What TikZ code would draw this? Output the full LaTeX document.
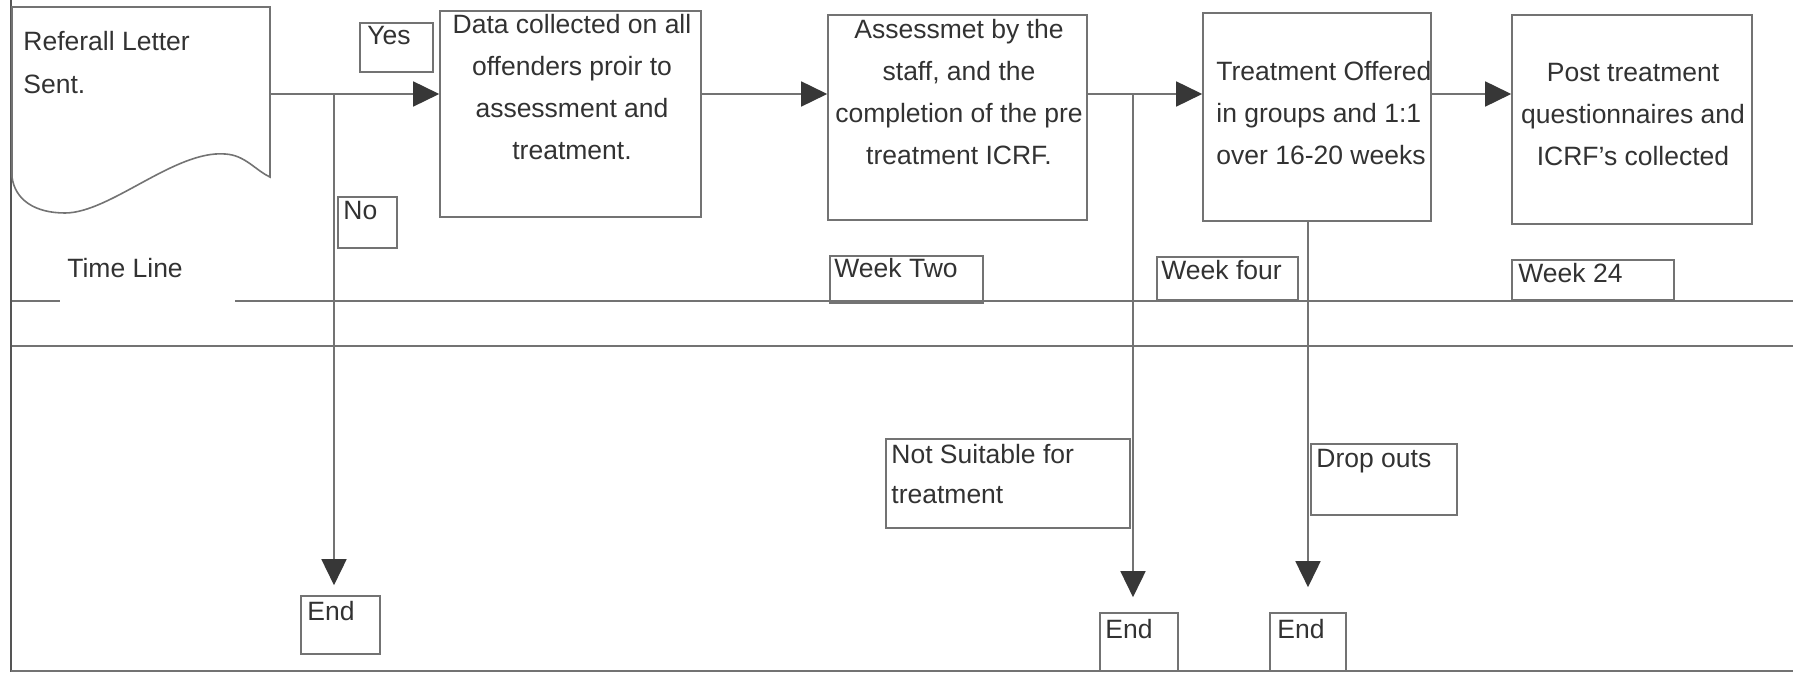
\documentclass[tikz,border=0pt]{standalone}
\usepackage{fontspec}
\setmainfont{Liberation Sans}
\usetikzlibrary{arrows.meta}
\definecolor{lineC}{RGB}{115,115,115}
\definecolor{frameC}{RGB}{85,85,85}
\definecolor{txtC}{RGB}{50,50,50}
\definecolor{tipC}{RGB}{55,55,55}
\begin{document}
\begin{tikzpicture}[x=0.5pt,y=-0.5pt,
  ln/.style={draw=lineC, line width=0.8pt},
  arr/.style={ln, -{Triangle[length=13pt,width=12.5pt,color=tipC]}},
  box/.style={draw=lineC, line width=0.8pt, inner sep=0pt},
  txt/.style={text=txtC, inner sep=0pt, font=\fontsize{13.25pt}{21pt}\selectfont},
]
\useasboundingbox (0,0) rectangle (1793,673);

% frame
\draw[draw=frameC, line width=1.3pt] (11,0) -- (11,672);
\draw[ln] (11,671) -- (1793,671);

% document shape
\draw[ln] (12,177) -- (12,7) -- (270,7) -- (270,177)
  .. controls (255,170) and (245,155) .. (225,154)
  .. controls (175,150) and (110,213) .. (65,213)
  .. controls (35,213) and (15,200) .. (12,177);
\node[txt, anchor=north west, align=left, font=\fontsize{13.25pt}{21.5pt}\selectfont] (docT) at (23,30.7) {Referall Letter\\Sent.};

% time lines
\draw[ln] (12,301) -- (60,301);
\draw[ln] (235,301) -- (1793,301);
\draw[ln] (12,346) -- (1793,346);
\node[txt, anchor=base west] (tl) at (67,278) {Time Line};

% main boxes
\node[box, minimum width=130.5pt, minimum height=103pt] (box1) at (570.5,114) {};
\node[box, minimum width=129.5pt, minimum height=102.5pt] (box2) at (957.5,117.5) {};
\node[box, minimum width=114pt, minimum height=104pt] (box3) at (1317,117) {};
\node[box, minimum width=120pt, minimum height=104.5pt] (box4) at (1632,119.5) {};

\node[txt, anchor=north, align=center] (t1) at (572,13.7) {Data collected on all\\offenders proir to\\assessment and\\treatment.};
\node[txt, anchor=north, align=center] (t2) at (959,18.7) {Assessmet by the\\staff, and the\\completion of the pre\\treatment ICRF.};
\node[txt, anchor=north west, align=left] (t3) at (1216,60.7) {Treatment Offered\\in groups and 1:1\\over 16-20 weeks};
\node[txt, anchor=north, align=center] (t4) at (1633,62.7) {Post treatment\\questionnaires and\\ICRF's collected};

% small label boxes
\node[box, minimum width=36.5pt, minimum height=24.5pt] (yes) at (396.5,47.5) {};
\node[txt, anchor=base west] (yesT) at (367,45) {Yes};
\node[box, minimum width=29.5pt, minimum height=25.5pt] (no) at (367.5,222.5) {};
\node[txt, anchor=base west] (noT) at (343,220) {No};

\node[box, minimum width=76.5pt, minimum height=23.5pt] (wk2) at (906.5,279.5) {};
\node[txt, anchor=base west] (wk2T) at (834,278) {Week Two};
\node[box, minimum width=70.5pt, minimum height=21.5pt] (wk4) at (1227.5,278.5) {};
\node[txt, anchor=base west] (wk4T) at (1161,280) {Week four};
\node[box, minimum width=81pt, minimum height=20pt] (wk24) at (1593,280) {};
\node[txt, anchor=base west] (wk24T) at (1518,283) {Week 24};

\node[box, minimum width=122pt, minimum height=44.5pt] (ns) at (1008,483.5) {};
\node[txt, anchor=north west, align=left, font=\fontsize{13.25pt}{20pt}\selectfont] (nsT) at (891,443.7) {Not Suitable for\\treatment};
\node[box, minimum width=73pt, minimum height=35.5pt] (drop) at (1384,479.5) {};
\node[txt, anchor=base west] (dropT) at (1316,467) {Drop outs};

\node[box, minimum width=39.5pt, minimum height=29pt] (end1) at (340.5,625) {};
\node[txt, anchor=base west] (end1T) at (307,620) {End};
\node[box, minimum width=39pt, minimum height=29pt] (end2) at (1139,642) {};
\node[txt, anchor=base west] (end2T) at (1105,638) {End};
\node[box, minimum width=38pt, minimum height=29pt] (end3) at (1308,642) {};
\node[txt, anchor=base west] (end3T) at (1277,638) {End};

% connectors
\coordinate (docR) at (270,94);
\coordinate (j1) at (334,94);
\coordinate (j2) at (1133,94);
\draw[ln] (docR) -- (j1);
\draw[arr] (j1) -- (j1 -| box1.west);
\draw[arr, shorten >=5pt] (j1) -- (j1 |- end1.north);
\draw[arr] (box1.east |- j1) -- (box2.west |- j1);
\draw[ln] (box2.east |- j2) -- (j2);
\draw[arr] (j2) -- (j2 -| box3.west);
\draw[arr, shorten >=7.5pt] (j2) -- (j2 |- end2.north);
\draw[arr] (box3.east |- j2) -- (box4.west |- j2);
\draw[arr, shorten >=12.5pt] (box3.south -| end3.north) -- (end3.north);
\end{tikzpicture}
\end{document}
